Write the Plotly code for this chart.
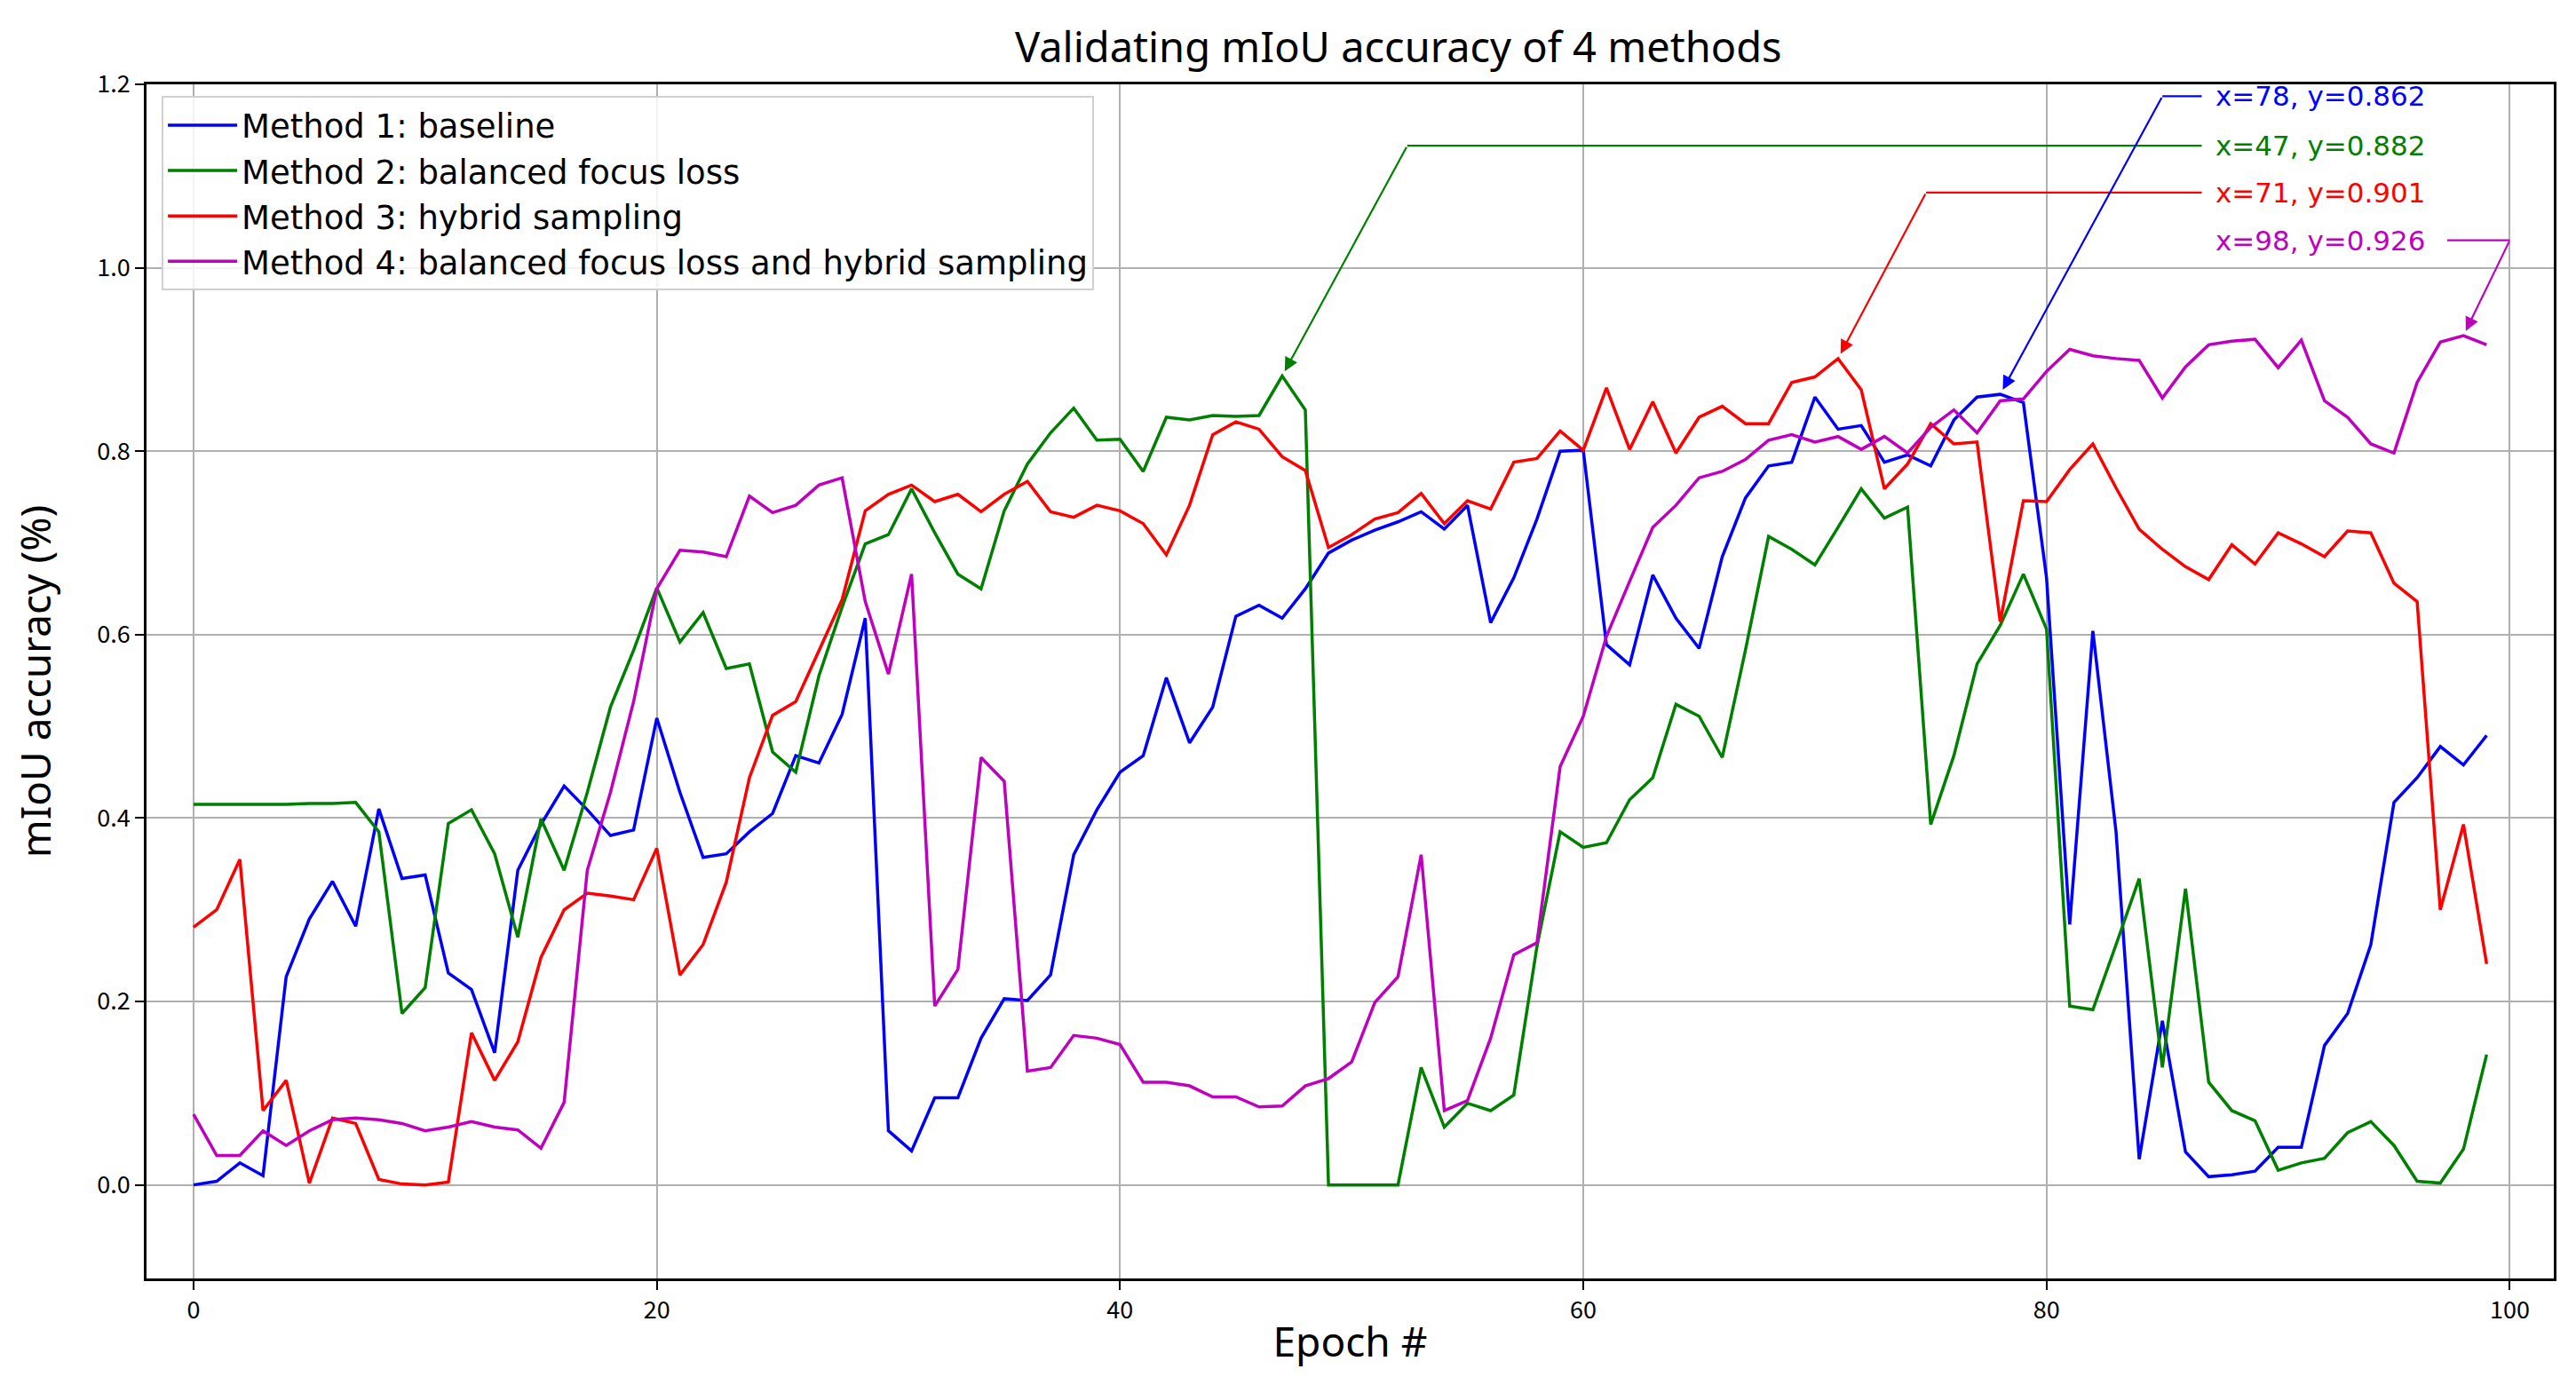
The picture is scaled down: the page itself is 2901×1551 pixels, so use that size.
import numpy as np
import plotly.graph_objects as go

epochs = list(range(100))

method1 = [0.0, 0.004, 0.024, 0.010, 0.227, 0.290, 0.331, 0.282, 0.410, 0.334,
           0.338, 0.231, 0.213, 0.144, 0.343, 0.393, 0.435, 0.409, 0.381, 0.387,
           0.509, 0.428, 0.357, 0.361, 0.385, 0.405, 0.468, 0.460, 0.513, 0.618,
           0.059, 0.037, 0.095, 0.095, 0.160, 0.203, 0.201, 0.229, 0.360, 0.409,
           0.450, 0.468, 0.553, 0.482, 0.521, 0.620, 0.632, 0.618, 0.650, 0.689,
           0.703, 0.714, 0.723, 0.734, 0.715, 0.741, 0.613, 0.662, 0.726, 0.800,
           0.801, 0.589, 0.567, 0.665, 0.618, 0.585, 0.685, 0.749, 0.784, 0.788,
           0.859, 0.824, 0.828, 0.788, 0.796, 0.784, 0.834, 0.859, 0.862, 0.853,
           0.662, 0.284, 0.604, 0.385, 0.028, 0.179, 0.036, 0.009, 0.011, 0.015,
           0.041, 0.041, 0.152, 0.187, 0.262, 0.417, 0.444, 0.478, 0.458, 0.490]

method2 = [0.415, 0.415, 0.415, 0.415, 0.415, 0.416, 0.416, 0.417, 0.385, 0.187,
           0.215, 0.394, 0.409, 0.361, 0.270, 0.399, 0.343, 0.428, 0.521, 0.583,
           0.651, 0.592, 0.624, 0.563, 0.568, 0.472, 0.450, 0.555, 0.630, 0.699,
           0.709, 0.759, 0.711, 0.666, 0.650, 0.735, 0.786, 0.820, 0.847, 0.812,
           0.813, 0.778, 0.837, 0.834, 0.839, 0.838, 0.839, 0.882, 0.845, 0.0,
           0.0, 0.0, 0.0, 0.128, 0.063, 0.089, 0.081, 0.098, 0.260, 0.385,
           0.368, 0.373, 0.420, 0.444, 0.524, 0.511, 0.466, 0.583, 0.707, 0.693,
           0.676, 0.717, 0.759, 0.727, 0.739, 0.393, 0.468, 0.568, 0.610, 0.666,
           0.606, 0.195, 0.191, 0.262, 0.334, 0.128, 0.323, 0.112, 0.081, 0.070,
           0.016, 0.024, 0.029, 0.057, 0.069, 0.043, 0.004, 0.002, 0.039, 0.142]

method3 = [0.281, 0.300, 0.355, 0.081, 0.114, 0.002, 0.073, 0.067, 0.006, 0.001,
           0.000, 0.003, 0.166, 0.114, 0.156, 0.248, 0.300, 0.318, 0.315, 0.311,
           0.367, 0.229, 0.262, 0.330, 0.444, 0.512, 0.527, 0.583, 0.638, 0.735,
           0.753, 0.763, 0.745, 0.753, 0.734, 0.753, 0.767, 0.734, 0.728, 0.741,
           0.735, 0.721, 0.687, 0.741, 0.818, 0.832, 0.824, 0.794, 0.779, 0.695,
           0.709, 0.726, 0.733, 0.754, 0.721, 0.746, 0.737, 0.788, 0.792, 0.822,
           0.801, 0.869, 0.802, 0.854, 0.798, 0.837, 0.849, 0.830, 0.830, 0.875,
           0.881, 0.901, 0.867, 0.759, 0.786, 0.830, 0.808, 0.810, 0.614, 0.746,
           0.745, 0.780, 0.808, 0.760, 0.715, 0.693, 0.674, 0.660, 0.698, 0.677,
           0.711, 0.699, 0.685, 0.713, 0.711, 0.656, 0.636, 0.300, 0.393, 0.241]

method4 = [0.077, 0.032, 0.032, 0.059, 0.043, 0.059, 0.071, 0.073, 0.071, 0.067,
           0.059, 0.063, 0.069, 0.063, 0.060, 0.040, 0.090, 0.343, 0.428, 0.527,
           0.650, 0.692, 0.690, 0.685, 0.751, 0.733, 0.741, 0.763, 0.771, 0.636,
           0.557, 0.666, 0.195, 0.235, 0.466, 0.440, 0.124, 0.128, 0.163, 0.160,
           0.153, 0.112, 0.112, 0.108, 0.096, 0.096, 0.085, 0.086, 0.108, 0.116,
           0.134, 0.199, 0.227, 0.360, 0.081, 0.092, 0.160, 0.251, 0.264, 0.456,
           0.511, 0.598, 0.658, 0.717, 0.741, 0.771, 0.778, 0.791, 0.812, 0.818,
           0.810, 0.816, 0.802, 0.816, 0.798, 0.826, 0.845, 0.820, 0.855, 0.857,
           0.887, 0.911, 0.904, 0.901, 0.899, 0.858, 0.892, 0.916, 0.920, 0.922,
           0.891, 0.921, 0.855, 0.837, 0.808, 0.798, 0.875, 0.919, 0.926, 0.916]

series_names = ["Method 1: baseline",
                "Method 2: balanced focus loss",
                "Method 3: hybrid sampling",
                "Method 4: balanced focus loss and hybrid sampling"]
series_values = [method1, method2, method3, method4]
colors = ["#0000ff", "#008000", "#ff0000", "#bf00bf"]

title_text = "Validating mIoU accuracy of 4 methods"
x_title = "Epoch #"
y_title = "mIoU accuracy (%)"
x_ticks = [0, 20, 40, 60, 80, 100]
y_ticks = [0.0, 0.2, 0.4, 0.6, 0.8, 1.0, 1.2]

# label placement (text row height and elbow x of each callout)
label_y = [1.187, 1.133, 1.082, 1.030]
elbow_x = [85.0, 52.4, 74.8, 100.0]

fig = go.Figure()
for name, vals, col in zip(series_names, series_values, colors):
    fig.add_trace(go.Scatter(x=epochs, y=vals, mode="lines", name=name,
                             line=dict(color=col, width=3.5)))

text_x = 87.2
for k, (vals, col) in enumerate(zip(series_values, colors)):
    i = int(np.argmax(vals))
    v = vals[i]
    txt = f"x={i}, y={v:.3f}"
    ly = label_y[k]
    ex = elbow_x[k]
    fig.add_annotation(x=text_x, y=ly, xref="x", yref="y", text=txt,
                       showarrow=False, xanchor="left", yanchor="middle",
                       font=dict(family="DejaVu Sans", size=31, color=col))
    if k < 3:
        x0, x1 = 86.7, ex
    else:
        x0, x1 = 97.3, ex
    fig.add_shape(type="line", xref="x", yref="y", x0=x0, x1=x1, y0=ly, y1=ly,
                  line=dict(color=col, width=2.2))
    fig.add_annotation(x=i, y=v, xref="x", yref="y", ax=ex, ay=ly,
                       axref="x", ayref="y", text="", showarrow=True,
                       arrowhead=2, arrowsize=1.4, arrowwidth=2.2,
                       arrowcolor=col, standoff=6)

font_main = "Noto Sans"
font_ticks = "Noto Sans CJK TC"
fig.update_layout(
    width=2901, height=1551,
    margin=dict(l=157, r=33, t=87, b=119, pad=0),
    paper_bgcolor="white", plot_bgcolor="white",
    title=dict(text=title_text, x=0.52, xref="paper", y=1 - 46 / 1551,
               yref="container", xanchor="center", yanchor="middle",
               font=dict(family=font_main, size=47, color="black")),
    legend=dict(x=0.0063, y=0.990, xanchor="left", yanchor="top",
                bgcolor="rgba(255,255,255,0.85)", bordercolor="#d0d0d0",
                borderwidth=2, font=dict(family="DejaVu Sans", size=37, color="black"),
                itemwidth=78, tracegroupgap=0),
    showlegend=True,
)
fig.update_xaxes(range=[-2.03, 101.9], tickvals=x_ticks, ticks="outside",
                 ticklen=10, tickwidth=2, tickcolor="black",
                 showline=True, linecolor="black", linewidth=2.5, mirror=True,
                 showgrid=True, gridcolor="#b0b0b0", gridwidth=1.5, zeroline=False,
                 tickfont=dict(family=font_ticks, size=27, color="black"),
                 title=dict(text=x_title, standoff=4,
                            font=dict(family=font_main, size=46, color="black")))
fig.update_yaxes(range=[-0.102, 1.2], tickvals=y_ticks, tickformat=".1f",
                 ticks="outside", ticklen=10, tickwidth=2, tickcolor="black",
                 showline=True, linecolor="black", linewidth=2.5, mirror=True,
                 showgrid=True, gridcolor="#b0b0b0", gridwidth=1.5, zeroline=False,
                 tickfont=dict(family=font_ticks, size=27, color="black"),
                 title=dict(text=y_title, standoff=40,
                            font=dict(family=font_main, size=46, color="black")))

fig.write_html("out.html")
